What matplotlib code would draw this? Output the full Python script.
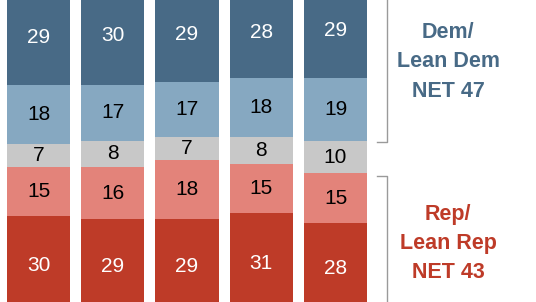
import numpy as np
import matplotlib.pyplot as plt

plt.rcParams['font.family'] = ['Liberation Sans', 'DejaVu Sans']

# segments from bottom to top
rep = [30, 29, 29, 31, 28]
lean_rep = [15, 16, 18, 15, 15]
neither = [7, 8, 7, 8, 10]
lean_dem = [18, 17, 17, 18, 19]
dem = [29, 30, 29, 28, 29]

series = [rep, lean_rep, neither, lean_dem, dem]
colores = ['#be3b28', '#e3837a', '#c8c8c8', '#86a8c1', '#486a86']
color_texto = ['white', 'black', 'black', 'black', 'white']

fig = plt.figure(figsize=(5.36, 3.02), dpi=100)
ax = fig.add_axes([0, 0, 1, 1])

x = np.arange(len(rep))
base = np.zeros(len(rep))
for valores, c, tc in zip(series, colores, color_texto):
    valores = np.array(valores)
    ax.bar(x, valores, bottom=base, width=0.85, color=c, linewidth=0)
    for xi, b, v in zip(x, base, valores):
        ax.text(xi, b + v / 2, str(v), ha='center', va='center',
                fontsize=15, color=tc)
    base = base + valores

ax.set_xlim(-0.5185, 6.7)
ax.set_ylim(3.78, 95.9)
ax.axis('off')

# corchetes
gris = '#9a9a9a'
ax.plot([4.69, 4.69, 4.56], [100, 52.6, 52.6], color=gris, lw=1, clip_on=False)
ax.plot([4.56, 4.69, 4.69], [42.2, 42.2, 0], color=gris, lw=1, clip_on=False)

ax.text(5.515, 77.0, 'Dem/\nLean Dem\nNET 47', ha='center', va='center',
        fontsize=15.5, fontweight='bold', color='#486a86', linespacing=1.52)
ax.text(5.515, 21.6, 'Rep/\nLean Rep\nNET 43', ha='center', va='center',
        fontsize=15.5, fontweight='bold', color='#be3b28', linespacing=1.52)

plt.savefig('out.png', dpi=100)
